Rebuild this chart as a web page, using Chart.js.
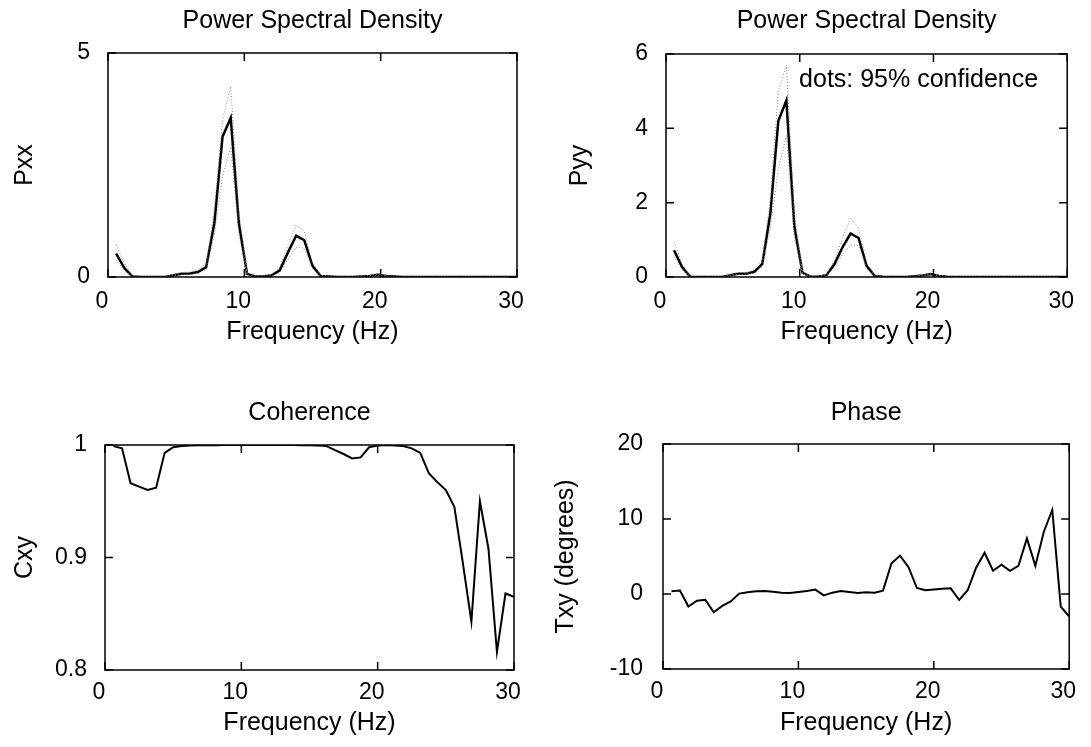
<!DOCTYPE html>
<html>
<head>
<meta charset="utf-8">
<title>Spectral analysis</title>
<script src="https://cdn.jsdelivr.net/npm/chart.js@4.4.1/dist/chart.umd.min.js"></script>
<style>
body { margin: 0; background: #fff; width: 1091px; height: 747px; position: relative; overflow: hidden; }
canvas { position: absolute; }
</style>
</head>
<body>
<canvas id="pxxChart" width="545" height="373" style="left:0;top:0"></canvas>
<canvas id="pyyChart" width="546" height="373" style="left:545px;top:0"></canvas>
<canvas id="cxyChart" width="545" height="374" style="left:0;top:373px"></canvas>
<canvas id="txyChart" width="546" height="374" style="left:545px;top:373px"></canvas>
<script>
// frequency grid of the power spectra (Hz)
const freqPsd = [0,0.6,1.2,1.8,2.4,3,3.6,4.2,4.8,5.4,6,6.6,7.2,7.8,8.4,9,9.6,10.2,10.8,11.4,
  12,12.6,13.2,13.8,14.4,15,15.6,16.2,16.8,17.4,18,18.6,19.2,19.8,20.4,21,21.6,22.2,22.8,23.4,
  24,24.6,25.2,25.8,26.4,27,27.6,28.2,28.8,29.4,30];

// Pxx and its 95% confidence band
const pxx = [null,0.52,0.2,0.01,0,0,0,0,0.04,0.07,0.08,0.11,0.22,1.2,3.13,3.55,1.2,0.07,0.01,0.01,
  0.04,0.15,0.55,0.92,0.82,0.25,0.02,0.01,0,0,0,0.01,0.02,0.05,0.02,0.01,0,0,0,0,
  0,0,0,0,0,0,0,0,0,0,0];
const pxxHi = [null,0.72,0.3,0.03,0.01,0.01,0.01,0.01,0.06,0.1,0.11,0.16,0.3,1.5,3.5,4.25,1.45,0.1,0.02,0.02,
  0.06,0.22,0.72,1.16,1.02,0.32,0.04,0.02,0.01,0.01,0.01,0.02,0.03,0.07,0.03,0.02,0.01,0.01,0.01,0.01,
  0.01,0.01,0.01,0.01,0.01,0.01,0.01,0.01,0.01,0.01,0.01];
const pxxLo = [null,0.38,0.14,0.005,0,0,0,0,0.03,0.05,0.05,0.08,0.15,0.95,2.25,2.9,0.95,0.05,0.005,0.005,
  0.03,0.1,0.4,0.67,0.64,0.18,0.01,0.005,0,0,0,0.005,0.01,0.04,0.01,0.005,0,0,0,0,
  0,0,0,0,0,0,0,0,0,0,0];

// Pyy and its 95% confidence band
const pyy = [null,0.72,0.27,0.01,0,0,0,0,0.05,0.09,0.09,0.14,0.35,1.7,4.2,4.75,1.35,0.12,0.01,0.01,
  0.05,0.35,0.8,1.17,1.05,0.3,0.03,0.01,0,0,0,0.02,0.04,0.08,0.03,0.01,0,0,0,0,
  0,0,0,0,0,0,0,0,0,0,0];
const pyyHi = [null,0.95,0.36,0.02,0.01,0.01,0.01,0.01,0.07,0.12,0.12,0.19,0.45,2.1,5.0,5.7,1.65,0.16,0.02,0.02,
  0.07,0.45,1.05,1.58,1.3,0.4,0.04,0.02,0.01,0.01,0.01,0.03,0.05,0.1,0.04,0.02,0.01,0.01,0.01,0.01,
  0.01,0.01,0.01,0.01,0.01,0.01,0.01,0.01,0.01,0.01,0.01];
const pyyLo = [null,0.55,0.2,0.005,0,0,0,0,0.04,0.07,0.07,0.1,0.26,1.3,2.9,3.8,1.05,0.09,0.005,0.005,
  0.04,0.25,0.6,0.86,0.85,0.22,0.02,0.005,0,0,0,0.01,0.03,0.06,0.02,0.005,0,0,0,0,
  0,0,0,0,0,0,0,0,0,0,0];

// frequency grid of the cross spectrum (Hz)
const freqCsd = [0,0.625,1.25,1.875,2.5,3.125,3.75,4.375,5,5.625,6.25,6.875,7.5,8.125,8.75,9.375,
  10,10.625,11.25,11.875,12.5,13.125,13.75,14.375,15,15.625,16.25,16.875,17.5,18.125,18.75,19.375,
  20,20.625,21.25,21.875,22.5,23.125,23.75,24.375,25,25.625,26.25,26.875,27.5,28.125,28.75,29.375,30];

const cxy = [null,0.999,0.997,0.966,0.963,0.96,0.962,0.993,0.998,0.999,0.9995,0.9997,0.9998,0.9998,0.9999,0.9999,
  0.9999,0.9999,0.9999,0.9999,0.9999,0.9999,0.9999,0.9998,0.9998,0.9995,0.999,0.9955,0.992,0.988,0.989,0.998,
  0.9995,1.0,0.9995,0.999,0.997,0.993,0.975,0.967,0.96,0.945,0.895,0.843,0.95,0.908,0.816,0.868,0.865];

// phase in degrees
const txy = [null,0.36,0.45,-1.67,-0.9,-0.77,-2.44,-1.58,-1.0,0.05,0.23,0.36,0.4,0.3,0.18,0.14,
  0.27,0.4,0.59,-0.18,0.18,0.4,0.27,0.14,0.23,0.18,0.45,4.1,5.1,3.6,0.8,0.5,
  0.6,0.7,0.75,-0.8,0.5,3.5,5.5,3.1,3.9,3.1,3.75,7.4,3.75,8.3,11.2,-1.67,-3.0];

const xTicks = [0, 10, 20, 30];

Chart.defaults.font.family = "'Liberation Sans', Arial, sans-serif";
Chart.defaults.color = '#000';

function pts(xs, ys) {
  return xs.map((x, i) => ({ x: x, y: ys[i] }));
}

// matlab style box with inward ticks on all four sides
const boxTicks = {
  id: 'boxTicks',
  afterDatasetsDraw(chart) {
    const { ctx, chartArea: a } = chart;
    const x = chart.scales.x, y = chart.scales.y;
    ctx.save();
    ctx.strokeStyle = '#000';
    ctx.lineWidth = 1.5;
    ctx.strokeRect(a.left, a.top, a.right - a.left, a.bottom - a.top);
    ctx.beginPath();
    x.ticks.forEach(t => {
      const px = x.getPixelForValue(t.value);
      ctx.moveTo(px, a.bottom); ctx.lineTo(px, a.bottom - 8);
      ctx.moveTo(px, a.top); ctx.lineTo(px, a.top + 8);
    });
    y.ticks.forEach(t => {
      const py = y.getPixelForValue(t.value);
      ctx.moveTo(a.left, py); ctx.lineTo(a.left + 8, py);
      ctx.moveTo(a.right, py); ctx.lineTo(a.right - 8, py);
    });
    ctx.stroke();
    ctx.restore();
  }
};

const confNote = {
  id: 'confNote',
  afterDraw(chart) {
    const { ctx } = chart;
    ctx.save();
    ctx.font = "25px 'Liberation Sans', Arial, sans-serif";
    ctx.fillStyle = '#000';
    ctx.textAlign = 'left';
    ctx.textBaseline = 'middle';
    ctx.fillText('dots: 95% confidence', chart.scales.x.getPixelForValue(9.95), chart.scales.y.getPixelForValue(5.3));
    ctx.restore();
  }
};

function mainLine(data, w) {
  return { data: data, borderColor: '#000', borderWidth: w, pointRadius: 0, tension: 0 };
}
function dotLine(data) {
  return { data: data, borderColor: '#8a8a8a', borderWidth: 1, borderDash: [1, 2], pointRadius: 0, tension: 0 };
}

function makeChart(id, c) {
  return new Chart(document.getElementById(id), {
    type: 'line',
    data: { datasets: c.datasets },
    options: {
      responsive: false,
      animation: false,
      layout: { padding: { left: 0, right: c.padRight, top: 0, bottom: 0 } },
      plugins: { legend: { display: false }, tooltip: { enabled: false } },
      scales: {
        x: {
          type: 'linear', min: 0, max: 30,
          afterBuildTicks: s => { s.ticks = xTicks.map(v => ({ value: v })); },
          ticks: { padding: c.xTickPad, labelOffset: -6, font: { size: 23 }, maxRotation: 0 },
          grid: { display: false, drawTicks: false },
          border: { display: false },
          title: { display: true, text: 'Frequency (Hz)', font: { size: 25 }, padding: { top: 0, bottom: c.xTitlePad } },
          afterFit: s => { s.height = c.xHeight; }
        },
        xTop: {
          axis: 'x', type: 'linear', position: 'top', min: 0, max: 30,
          ticks: { display: false },
          grid: { display: false, drawTicks: false },
          border: { display: false },
          title: { display: true, text: c.title, font: { size: 25 }, padding: { top: c.titlePad, bottom: 0 } },
          afterFit: s => { s.height = c.topHeight; }
        },
        y: {
          min: c.yMin, max: c.yMax,
          afterBuildTicks: s => { s.ticks = c.yTicks.map(v => ({ value: v })); },
          ticks: { padding: c.yTickPad, font: { size: 23 }, callback: v => String(Math.round(v * 100) / 100) },
          grid: { display: false, drawTicks: false },
          border: { display: false },
          title: { display: true, text: c.yTitle, font: { size: 25 }, padding: { top: c.yTitlePad, bottom: 0 } },
          afterFit: s => { s.width = c.yWidth; }
        }
      }
    },
    plugins: [boxTicks].concat(c.plugins || [])
  });
}

makeChart('pxxChart', {
  title: 'Power Spectral Density', titlePad: 6, topHeight: 53,
  yTitle: 'Pxx', yTitlePad: 10, yWidth: 108, yTickPad: 18,
  yMin: 0, yMax: 5, yTicks: [0, 5],
  padRight: 28, xHeight: 96, xTickPad: 11, xTitlePad: 26,
  datasets: [
    dotLine(pts(freqPsd, pxxHi)),
    dotLine(pts(freqPsd, pxxLo)),
    mainLine(pts(freqPsd, pxx), 2.5)
  ]
});

makeChart('pyyChart', {
  title: 'Power Spectral Density', titlePad: 6, topHeight: 54,
  yTitle: 'Pyy', yTitlePad: 20, yWidth: 121, yTickPad: 18,
  yMin: 0, yMax: 6, yTicks: [0, 2, 4, 6],
  padRight: 15, xHeight: 96, xTickPad: 11, xTitlePad: 26,
  datasets: [
    dotLine(pts(freqPsd, pyyHi)),
    dotLine(pts(freqPsd, pyyLo)),
    mainLine(pts(freqPsd, pyy), 2.5)
  ],
  plugins: [confNote]
});

makeChart('cxyChart', {
  title: 'Coherence', titlePad: 25, topHeight: 72,
  yTitle: 'Cxy', yTitlePad: 10, yWidth: 105, yTickPad: 18,
  yMin: 0.8, yMax: 1, yTicks: [0.8, 0.9, 1],
  padRight: 31, xHeight: 77, xTickPad: 9, xTitlePad: 9,
  datasets: [mainLine(pts(freqCsd, cxy), 2)]
});

makeChart('txyChart', {
  title: 'Phase', titlePad: 25, topHeight: 71,
  yTitle: 'Txy (degrees)', yTitlePad: 6, yWidth: 118, yTickPad: 20,
  yMin: -10, yMax: 20, yTicks: [-10, 0, 10, 20],
  padRight: 17, xHeight: 78, xTickPad: 9, xTitlePad: 9,
  datasets: [mainLine(pts(freqCsd, txy), 2)]
});
</script>
</body>
</html>
